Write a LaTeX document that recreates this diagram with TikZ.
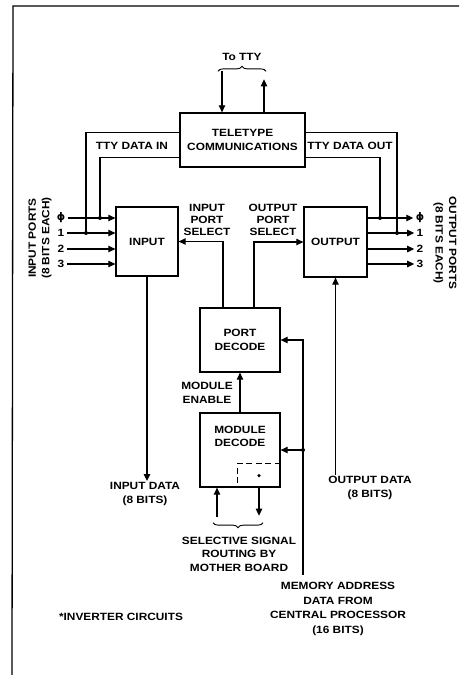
\documentclass[tikz,border=0pt]{standalone}
\usepackage{fontspec}
\setmainfont{Liberation Sans}[FakeStretch=1.13]
\newfontfamily\phifont{DejaVu Sans}
\usetikzlibrary{positioning,arrows.meta,decorations.pathreplacing}

\begin{document}
\begin{tikzpicture}[x=1pt,y=-1pt,line width=1.1pt,
    font=\bfseries\fontsize{10.5}{13.5}\selectfont,
    block/.style={draw,line width=1.3pt,align=center,inner sep=0pt},
    arr/.style={-{Triangle[length=7pt,width=6.5pt]}},
    dot/.style={circle,fill,inner sep=0pt,minimum size=4pt},
    brace/.style={decorate,decoration={brace,amplitude=5pt},line width=0.9pt},
    txt/.style={align=center,inner sep=1pt}]
    \useasboundingbox (0,0) rectangle (459,675);
    \draw[line width=1.3pt] (459,6) -- (13,6) -- (12,675);

    \node[block,minimum width=125pt,minimum height=54pt] (tty) at (242.5,140) {TELETYPE\\COMMUNICATIONS};
    \node[block,minimum width=62pt,minimum height=69pt] (input) at (147,241.5) {INPUT};
    \node[block,minimum width=63pt,minimum height=70pt] (output) at (335.5,242) {OUTPUT};
    \node[block,minimum width=80pt,minimum height=64pt] (portdec) at (240,340) {PORT\\DECODE};
    \node[block,minimum width=80pt,minimum height=74pt] (moddec) at (240,450) {MODULE\\DECODE\\[14pt]};

    \node[txt] (totty) at (242,57) {To TTY};
    \node[txt] (ttyin) at (132,146) {TTY DATA IN};
    \node[txt] (ttyout) at (350,146) {TTY DATA OUT};
    \node[txt,font=\bfseries\fontsize{10.5}{12}\selectfont] (insel) at (207,220) {INPUT\\PORT\\SELECT};
    \node[txt,font=\bfseries\fontsize{10.5}{12}\selectfont] (outsel) at (273,220) {OUTPUT\\PORT\\SELECT};
    \node[txt,rotate=90] (inports) at (40,238) {INPUT PORTS\\(8 BITS EACH)};
    \node[txt,rotate=-90] (outports) at (445,243) {OUTPUT PORTS\\(8 BITS EACH)};
    \node[txt] (modenable) at (207,393) {MODULE\\ENABLE};
    \node[txt] (indata) at (145,494) {INPUT DATA\\(8 BITS)};
    \node[txt] (outdata) at (370,488) {OUTPUT DATA\\(8 BITS)};
    \node[txt] (routing) at (239,554) {SELECTIVE SIGNAL\\ROUTING BY\\MOTHER BOARD};
    \node[txt,font=\bfseries\fontsize{10.5}{14.5}\selectfont] (memaddr) at (338,609) {MEMORY ADDRESS\\DATA FROM\\CENTRAL PROCESSOR\\(16 BITS)};
    \node[txt] (inverter) at (121,617) {*INVERTER CIRCUITS};

    \foreach \n/\y/\t in {0/218/{\phifont ϕ},1/233/1,2/249/2,3/264/3} {
        \node[inner sep=2pt] (pin\n) at (61,\y) {\t};
        \node[inner sep=2pt] (pout\n) at (420,\y) {\t};
        \draw[arr] (pin\n.east) -- (pin\n.east -| input.west);
        \draw[arr] (output.east |- pout\n) -- (pout\n.west);
    }

    \node[dot] (jin0) at (100,218) {};
    \node[dot] (jin1) at (86,233) {};
    \node[dot] (jout0) at (380,218) {};
    \node[dot] (jout1) at (397,233) {};
    \draw (jin1.center) |- ([yshift=-20pt]tty.north west);
    \draw (jin0.center) |- ([yshift=-45pt]tty.north west);
    \draw (jout1.center) |- ([yshift=-20pt]tty.north east);
    \draw (jout0.center) |- ([yshift=-45pt]tty.north east);

    \draw[arr] ([xshift=-20.5pt,yshift=41pt]tty.north) -- ([xshift=-20.5pt]tty.north);
    \draw[arr] ([xshift=21.5pt]tty.north) -- ++(0,-33);
    \draw[brace] ([xshift=-24.5pt,yshift=41pt]tty.north) -- ([xshift=23.5pt,yshift=41pt]tty.north);

    \draw[arr] ([xshift=-17pt]portdec.north) |- (input.east);
    \draw[arr] ([xshift=14pt]portdec.north) |- (output.west);
    \draw[arr] (input.south) -- (input.south |- indata.north);
    \draw[arr] (output.south |- outdata.north) -- (output.south);
    \draw[arr] (moddec.north) -- (portdec.south);

    \coordinate (mabus) at ([xshift=-35pt,yshift=6pt]memaddr.north);
    \draw[arr] (mabus) |- (portdec.east);
    \node[dot] (jbus) at (mabus |- moddec.east) {};
    \draw[arr] (jbus.center) -- (moddec.east);

    \draw[line width=1.1pt,dash pattern=on 6pt off 3.5pt] ([yshift=-51pt]moddec.north east) -| ([xshift=38pt]moddec.south west);
    \node[dot,minimum size=3.5pt] (inv) at ([xshift=19pt,yshift=12pt]moddec.south) {};
    \draw[arr] ([xshift=19pt]moddec.south) -- ++(0,28);
    \draw[arr] ([xshift=-23pt,yshift=-29pt]moddec.south) -- ([xshift=-23pt]moddec.south);
    \draw[brace,decoration={mirror}] ([xshift=-27pt,yshift=-35pt]moddec.south) -- ([xshift=23pt,yshift=-35pt]moddec.south);
\end{tikzpicture}
\end{document}
